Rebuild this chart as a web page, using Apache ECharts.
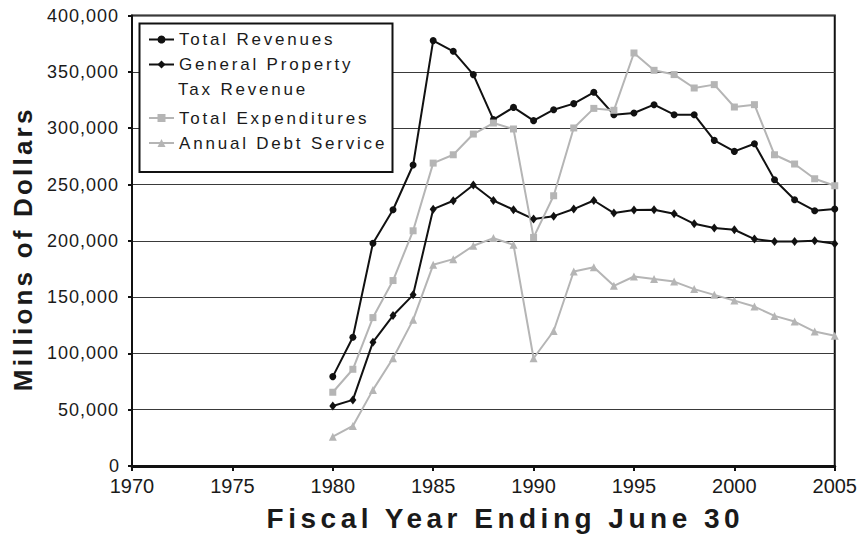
<!DOCTYPE html>
<html>
<head>
<meta charset="utf-8">
<script src="https://cdn.jsdelivr.net/npm/echarts@6/dist/echarts.min.js"></script>
<style>
  html, body { margin: 0; padding: 0; background: #fff; }
  #chart { width: 860px; height: 545px; }
</style>
</head>
<body>
<div id="chart"></div>
<script>
// Fiscal years (ending June 30)
const years = [1980, 1981, 1982, 1983, 1984, 1985, 1986, 1987, 1988, 1989,
               1990, 1991, 1992, 1993, 1994, 1995, 1996, 1997, 1998, 1999,
               2000, 2001, 2002, 2003, 2004, 2005];

// Millions of dollars
const totalRevenues = [79400, 114400, 197900, 227600, 267300, 377800, 368300, 347600, 307600, 318500,
                       306700, 316400, 321800, 331900, 312000, 313500, 320900, 312000, 312000, 289200,
                       279400, 286200, 254200, 236400, 226700, 228200];
const propertyTax = [53300, 58700, 110000, 133600, 152000, 228100, 235600, 249500, 235800, 227600,
                     219300, 221900, 228200, 235800, 224600, 227300, 227600, 224000, 215100, 211300,
                     209800, 201500, 199400, 199400, 200000, 197300];
const expenditures = [65500, 85900, 131800, 164700, 208900, 269000, 276400, 294800, 304600, 299300,
                      203000, 240000, 300200, 317600, 315900, 366800, 351400, 347600, 335700, 338700,
                      318800, 320900, 276400, 268200, 255100, 248900];
const debtService = [26000, 35600, 67600, 95700, 129800, 178700, 183700, 195600, 202400, 196400,
                     95700, 119900, 172700, 176600, 160000, 168300, 166000, 163800, 157100, 152000,
                     146900, 141600, 133300, 128300, 119400, 115600];

const seriesNames = ['Total Revenues', 'General Property Tax Revenue', 'Total Expenditures', 'Annual Debt Service'];

// Axis ranges
const xMin = 1970, xMax = 2005, xStep = 5;
const yMin = 0, yMax = 400000, yStep = 50000;

const FONT = "'Liberation Sans', Arial, Helvetica, sans-serif";
const DARK = '#111111';
const GRAY = '#b5b5b5';

const pairs = vals => years.map((y, i) => [y, vals[i]]);

function lineSeries(name, vals, color, symbol, size) {
  return {
    name: name,
    type: 'line',
    data: pairs(vals),
    symbol: symbol,
    symbolSize: size,
    showAllSymbol: true,
    lineStyle: { color: color, width: 2 },
    itemStyle: { color: color, borderWidth: 0 },
    emphasis: { disabled: true }
  };
}

const legendText = { fontFamily: FONT, fontSize: 17, color: '#1a1a1a', lineHeight: 20 };

const chart = echarts.init(document.getElementById('chart'), null, { renderer: 'svg' });

chart.setOption({
  animation: false,
  backgroundColor: '#fff',
  grid: {
    left: 132, right: 25, top: 15.6, bottom: 79,
    show: true, borderColor: DARK, borderWidth: 2, backgroundColor: 'transparent'
  },
  xAxis: {
    type: 'value',
    min: xMin, max: xMax, interval: xStep,
    name: 'Fiscal Year Ending June 30',
    nameLocation: 'middle',
    nameGap: 38,
    nameTextStyle: {
      fontFamily: FONT, fontSize: 28, fontWeight: 'bold', color: '#1a1a1a',
      padding: [0, 0, 0, 44]
    },
    axisLine: { show: true, lineStyle: { color: DARK, width: 3 } },
    axisTick: { show: true, inside: false, length: 5, lineStyle: { color: DARK, width: 2 } },
    axisLabel: {
      fontFamily: FONT, fontSize: 20, lineHeight: 16, color: '#1a1a1a', margin: 12,
      formatter: v => String(v)
    },
    splitLine: { show: false }
  },
  yAxis: {
    type: 'value',
    min: yMin, max: yMax, interval: yStep,
    name: 'Millions of Dollars',
    nameLocation: 'middle',
    nameGap: 96,
    nameRotate: 90,
    nameTextStyle: { fontFamily: FONT, fontSize: 26, fontWeight: 'bold', color: '#1a1a1a', padding: [0, 16, 0, 0] },
    axisLine: { show: true, lineStyle: { color: DARK, width: 2 } },
    axisTick: { show: true, inside: false, length: 4, lineStyle: { color: DARK, width: 2 } },
    axisLabel: {
      fontFamily: FONT, fontSize: 18, lineHeight: 14, color: '#1a1a1a', margin: 13,
      formatter: v => v.toLocaleString('en-US')
    },
    splitLine: { show: true, lineStyle: { color: '#3a3a3a', width: 1 } }
  },
  legend: [
    {
      data: [seriesNames[0], seriesNames[1]],
      orient: 'vertical',
      left: 148, top: 29.5,
      padding: 0,
      itemGap: 5,
      itemWidth: 25, itemHeight: 10,
      selectedMode: false,
      textStyle: legendText,
      formatter: name => name === 'General Property Tax Revenue' ? 'General Property' : name
    },
    {
      data: [seriesNames[2], seriesNames[3]],
      orient: 'vertical',
      left: 148, top: 108,
      padding: 0,
      itemGap: 5,
      itemWidth: 25, itemHeight: 10,
      selectedMode: false,
      textStyle: legendText
    }
  ],
  graphic: [
    {
      type: 'rect', z: 3, silent: true,
      shape: { x: 139.5, y: 23.5, width: 253, height: 148.5 },
      style: { fill: '#fff', stroke: DARK, lineWidth: 2 }
    },
    {
      type: 'text', z: 5, silent: true,
      x: 178, y: 89,
      style: {
        text: 'Tax Revenue', font: '17px ' + FONT, fill: '#1a1a1a',
        textAlign: 'left', textVerticalAlign: 'middle'
      }
    }
  ],
  series: [
    lineSeries(seriesNames[0], totalRevenues, DARK, 'circle', 7),
    lineSeries(seriesNames[1], propertyTax, DARK, 'diamond', [7, 9]),
    lineSeries(seriesNames[2], expenditures, GRAY, 'rect', 7),
    lineSeries(seriesNames[3], debtService, GRAY, 'triangle', 8)
  ]
});

// Tracked (letter-spaced) lettering for titles, legend entries and value labels
const tracking = {
  'Fiscal Year Ending June 30': '4.5px',
  'Millions of Dollars': '3.2px',
  'Total Revenues': '2.8px',
  'General Property': '2.8px',
  'Tax Revenue': '2.8px',
  'Total Expenditures': '2.8px',
  'Annual Debt Service': '2.8px'
};
function applyTracking() {
  document.querySelectorAll('#chart text').forEach(t => {
    const txt = t.textContent.trim();
    const s = tracking[txt];
    if (s) t.style.letterSpacing = s;
    else if (/^\d{1,3},\d{3}$/.test(txt)) t.style.letterSpacing = '1px';
  });
}
applyTracking();
chart.on('finished', applyTracking);
</script>
</body>
</html>
